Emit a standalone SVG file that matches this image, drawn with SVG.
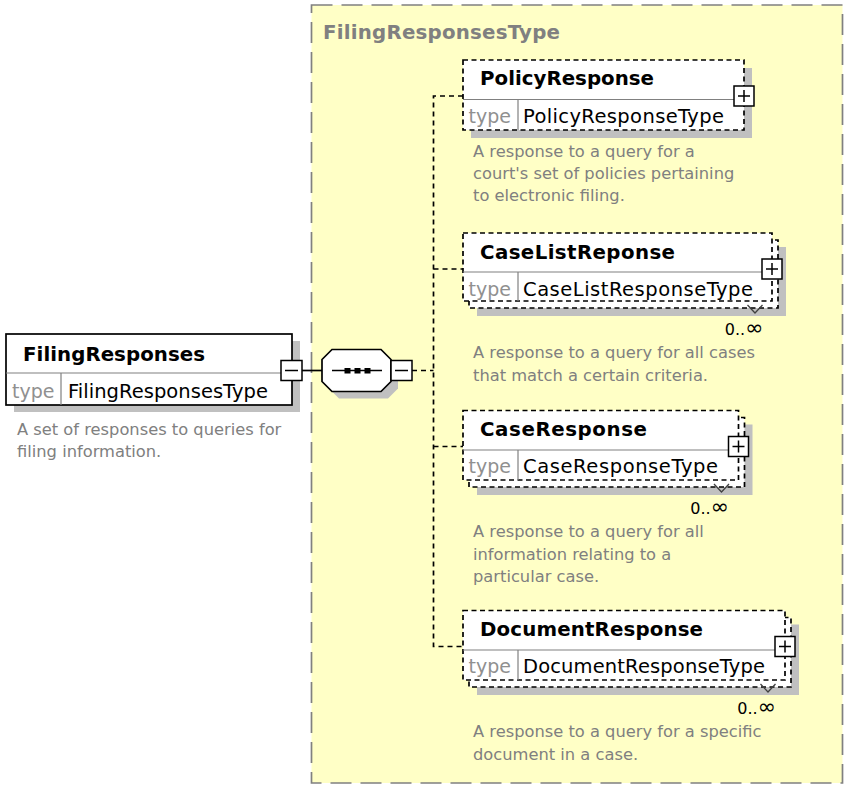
<svg xmlns="http://www.w3.org/2000/svg" width="846" height="787" viewBox="0 0 846 787">
<style>
.bg{fill:#ffffff}
.cont{fill:#ffffc6;stroke:#808080;stroke-width:1.7;stroke-dasharray:21 9}
.ctitle{font-family:"DejaVu Sans",Verdana,sans-serif;font-weight:bold;font-size:19.8px;fill:#808080}
.shadow{fill:#c0c0c0}
.solid{fill:#ffffff;stroke:#000000;stroke-width:1.7}
.dash{fill:#ffffff;stroke:#000000;stroke-width:1.7;stroke-dasharray:5 3.5}
.div{stroke:#808080;stroke-width:1.2;fill:none}
.name{font-family:"DejaVu Sans",Verdana,sans-serif;font-weight:bold;font-size:19.8px;fill:#000000}
.tlab{font-family:"DejaVu Sans",Verdana,sans-serif;font-size:19px;fill:#909090}
.tval{font-family:"DejaVu Sans",Verdana,sans-serif;font-size:19.5px;fill:#000000}
.desc{font-family:"DejaVu Sans",Verdana,sans-serif;font-size:16.3px;fill:#808080}
.occ{font-family:"DejaVu Sans",Verdana,sans-serif;font-size:16px;fill:#000000}
.inf{font-size:22px}
.btn{fill:#ffffff;stroke:#000000;stroke-width:1.5}
.sym{stroke:#000000;stroke-width:1.5;fill:none}
.conn{stroke:#000000;stroke-width:1.7;fill:none}
.cdash{stroke:#000000;stroke-width:1.7;fill:none;stroke-dasharray:5 4}
.chev{stroke:#404040;stroke-width:1.3;fill:none}
</style>
<rect class="bg" x="0" y="0" width="846" height="787"/>

<g id="FilingResponsesType">
  <rect class="cont" x="311.5" y="5" width="531" height="778"/>
  <text class="ctitle" x="323" y="38.5" textLength="237" lengthAdjust="spacing">FilingResponsesType</text>
</g>

<g id="connectors">
  <line class="conn" x1="302" y1="370.5" x2="322" y2="370.5"/>
  <line class="cdash" x1="412" y1="370.5" x2="433.5" y2="370.5"/>
  <path class="cdash" d="M463,96 H433.5 V646.5 H463"/>
  <line class="cdash" x1="433.5" y1="269" x2="463" y2="269"/>
  <line class="cdash" x1="433.5" y1="446.5" x2="463" y2="446.5"/>
</g>

<g id="FilingResponses">
  <rect class="shadow" x="14" y="341" width="286" height="71"/>
  <rect class="solid" x="6" y="334" width="286" height="71"/>
  <line class="div" x1="6" y1="373" x2="292" y2="373"/>
  <line class="div" x1="61" y1="373" x2="61" y2="405"/>
  <text class="name" x="23" y="361" textLength="182" lengthAdjust="spacing">FilingResponses</text>
  <text class="tlab" x="12" y="398">type</text>
  <text class="tval" x="68" y="398" textLength="200" lengthAdjust="spacing">FilingResponsesType</text>
  <rect class="btn" x="281" y="360.5" width="21" height="20"/>
  <line class="sym" x1="285" y1="370.5" x2="298" y2="370.5"/>
  <text class="desc" x="17" y="435">A set of responses to queries for</text>
  <text class="desc" x="17" y="457">filing information.</text>
</g>

<g id="sequence">
  <polygon class="shadow" points="339,356.5 388,356.5 398,366.5 398,388.5 388,398.5 339,398.5 329,388.5 329,366.5"/>
  <polygon class="solid" points="332,349.5 381,349.5 391,359.5 391,381.5 381,391.5 332,391.5 322,381.5 322,359.5"/>
  <line class="sym" x1="332" y1="370.5" x2="382" y2="370.5"/>
  <rect x="344.5" y="368" width="6" height="5.5" fill="#000000"/>
  <rect x="354.5" y="368" width="6" height="5.5" fill="#000000"/>
  <rect x="364.5" y="368" width="6" height="5.5" fill="#000000"/>
  <rect class="btn" x="391" y="360.5" width="21" height="20"/>
  <line class="sym" x1="395" y1="370.5" x2="408" y2="370.5"/>
</g>

<g id="PolicyResponse">
  <rect class="shadow" x="471" y="68" width="281" height="70"/>
  <rect class="dash" x="463" y="60" width="281" height="70"/>
  <line class="div" x1="463" y1="99.5" x2="744" y2="99.5"/>
  <line class="div" x1="518" y1="99.5" x2="518" y2="130"/>
  <text class="name" x="480" y="85" textLength="174" lengthAdjust="spacing">PolicyResponse</text>
  <text class="tlab" x="468.5" y="123">type</text>
  <text class="tval" x="523" y="123" textLength="201" lengthAdjust="spacing">PolicyResponseType</text>
  <rect class="btn" x="734" y="86" width="20" height="20"/>
  <path class="sym" d="M738,96 H750 M744,90 V102"/>
  <text class="desc" x="473" y="157">A response to a query for a</text>
  <text class="desc" x="473" y="179">court's set of policies pertaining</text>
  <text class="desc" x="473" y="201">to electronic filing.</text>
</g>

<g id="CaseListReponse">
  <rect class="shadow" x="477" y="247" width="309" height="69"/>
  <rect class="dash" x="469" y="240" width="309" height="68"/>
  <rect class="dash" x="463" y="233" width="309" height="68"/>
  <line class="div" x1="463" y1="272" x2="772" y2="272"/>
  <line class="div" x1="518" y1="272" x2="518" y2="301"/>
  <text class="name" x="480" y="258.5" textLength="195" lengthAdjust="spacing">CaseListReponse</text>
  <text class="tlab" x="468.5" y="295.5">type</text>
  <text class="tval" x="523" y="295.5" textLength="230" lengthAdjust="spacing">CaseListResponseType</text>
  <rect class="btn" x="762" y="259" width="20" height="20"/>
  <path class="sym" d="M766,269 H778 M772,263 V275"/>
  <polyline class="chev" points="747.5,305 755,313 762.5,305"/>
  <text class="occ" x="763.5" y="335" text-anchor="end">0..<tspan class="inf">∞</tspan></text>
  <text class="desc" x="473" y="358">A response to a query for all cases</text>
  <text class="desc" x="473" y="380.5">that match a certain criteria.</text>
</g>

<g id="CaseResponse">
  <rect class="shadow" x="477" y="424.5" width="275.5" height="70.5"/>
  <rect class="dash" x="469" y="417.5" width="275.5" height="69.5"/>
  <rect class="dash" x="463" y="410.5" width="275.5" height="69.5"/>
  <line class="div" x1="463" y1="450" x2="738.5" y2="450"/>
  <line class="div" x1="518" y1="450" x2="518" y2="480"/>
  <text class="name" x="480" y="436" textLength="167" lengthAdjust="spacing">CaseResponse</text>
  <text class="tlab" x="468.5" y="473">type</text>
  <text class="tval" x="523" y="473" textLength="195" lengthAdjust="spacing">CaseResponseType</text>
  <rect class="btn" x="728.5" y="436.5" width="20" height="20"/>
  <path class="sym" d="M732.5,446.5 H744.5 M738.5,440.5 V452.5"/>
  <polyline class="chev" points="714,484 721.5,492 729,484"/>
  <text class="occ" x="729" y="514" text-anchor="end">0..<tspan class="inf">∞</tspan></text>
  <text class="desc" x="473" y="537">A response to a query for all</text>
  <text class="desc" x="473" y="559.5">information relating to a</text>
  <text class="desc" x="473" y="582">particular case.</text>
</g>

<g id="DocumentResponse">
  <rect class="shadow" x="477" y="624.5" width="322" height="70.5"/>
  <rect class="dash" x="469" y="617.5" width="322" height="69.5"/>
  <rect class="dash" x="463" y="610.5" width="322" height="69.5"/>
  <line class="div" x1="463" y1="650" x2="785" y2="650"/>
  <line class="div" x1="518" y1="650" x2="518" y2="680"/>
  <text class="name" x="480" y="636" textLength="223" lengthAdjust="spacing">DocumentResponse</text>
  <text class="tlab" x="468.5" y="673">type</text>
  <text class="tval" x="523" y="673" textLength="242" lengthAdjust="spacing">DocumentResponseType</text>
  <rect class="btn" x="775" y="636.5" width="20" height="20"/>
  <path class="sym" d="M779,646.5 H791 M785,640.5 V652.5"/>
  <polyline class="chev" points="760.5,684 768,692 775.5,684"/>
  <text class="occ" x="776" y="714" text-anchor="end">0..<tspan class="inf">∞</tspan></text>
  <text class="desc" x="473" y="737">A response to a query for a specific</text>
  <text class="desc" x="473" y="759.5">document in a case.</text>
</g>
</svg>
